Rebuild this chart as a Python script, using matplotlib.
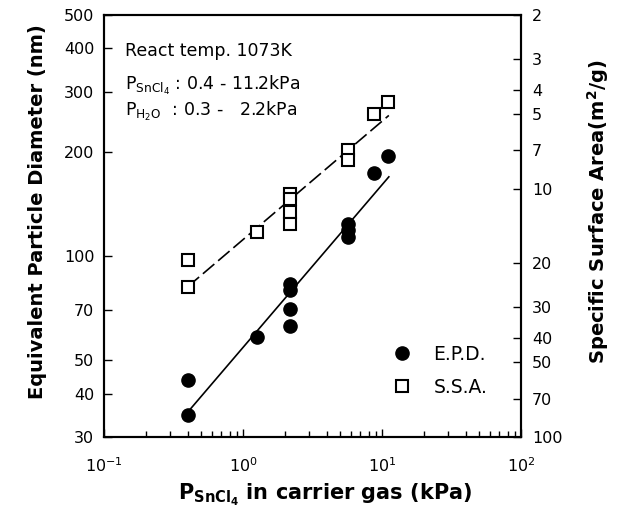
import matplotlib
matplotlib.use("Agg")
import matplotlib.pyplot as plt
from matplotlib.ticker import FixedLocator, FixedFormatter, LogLocator, NullFormatter

plt.rcParams['font.family'] = ['DejaVu Sans']
plt.rcParams['mathtext.fontset'] = 'dejavusans'
plt.rcParams['mathtext.default'] = 'regular'

# ---- data ----
epd_x = [0.4, 0.4, 1.27, 2.18, 2.18, 2.18, 2.18, 5.7, 5.7, 5.7, 8.75, 11.1]
epd_y = [43.9, 34.7, 58.5, 83.4, 80.0, 70.6, 62.9, 124, 119, 114, 174, 195]

ssa_x = [0.4, 0.4, 1.27, 2.18, 2.18, 2.18, 2.18, 5.7, 5.7, 8.75, 11.0]
ssa_y = [97.6, 81.7, 118, 151.5, 146.6, 134.2, 124.4, 203, 190, 259, 280]

fit_x = [0.4, 11.2]
epd_fit = [35.4, 170]
ssa_fit = [81.7, 256]

left_ticks = [30, 40, 50, 70, 100, 200, 300, 400, 500]
right_ticks = [2, 3, 4, 5, 7, 10, 20, 30, 40, 50, 70, 100]
x_ticks = [0.1, 1, 10, 100]
x_labels = ['$10^{-1}$', '$10^{0}$', '$10^{1}$', '$10^{2}$']

fig = plt.figure(figsize=(6.28, 5.11), dpi=100)
ax = fig.add_axes([0.1656, 0.1448, 0.664, 0.8258])

ax.plot(fit_x, epd_fit, color='black', lw=1.2)
ax.plot(fit_x, ssa_fit, color='black', lw=1.2, dashes=(9, 3))
ax.plot(epd_x, epd_y, 'o', ms=9.5, color='black', label='E.P.D.')
ax.plot(ssa_x, ssa_y, 's', ms=8, mfc='white', mec='black', mew=1.5, label='S.S.A.')

ax.set_xscale('log')
ax.set_yscale('log')
ax.set_xlim(0.1, 100)
ax.set_ylim(30, 500)

ax.xaxis.set_major_locator(FixedLocator(x_ticks))
ax.xaxis.set_major_formatter(FixedFormatter(x_labels))
ax.xaxis.set_minor_locator(LogLocator(base=10, subs=range(2, 10)))
ax.xaxis.set_minor_formatter(NullFormatter())

ax.yaxis.set_major_locator(FixedLocator(left_ticks))
ax.yaxis.set_major_formatter(FixedFormatter([str(t) for t in left_ticks]))
ax.yaxis.set_minor_locator(FixedLocator([]))

ax.tick_params(axis='both', which='major', direction='in', length=6, width=1, labelsize=11.5)
ax.tick_params(axis='x', which='minor', direction='in', length=4, width=1)
ax.tick_params(axis='x', which='both', top=False, pad=14)
ax.tick_params(axis='y', which='both', right=False, pad=7)

for s in ax.spines.values():
    s.set_linewidth(1.5)

ax.set_xlabel('P$_{\\mathbf{SnCl_4}}$ in carrier gas (kPa)', fontsize=15, fontweight='bold', labelpad=5)
ax.xaxis.label.set_x(0.53)
ax.set_ylabel('Equivalent Particle Diameter (nm)', fontsize=14, fontweight='bold', labelpad=12)
ax.yaxis.label.set_y(0.533)

ax2 = ax.twinx()
ax2.set_yscale('log')
ax2.set_ylim(100, 2)
ax2.yaxis.set_major_locator(FixedLocator(right_ticks))
ax2.yaxis.set_major_formatter(FixedFormatter([str(t) for t in right_ticks]))
ax2.yaxis.set_minor_locator(FixedLocator([]))
ax2.tick_params(axis='y', which='major', direction='in', length=6, width=1, labelsize=11.5, pad=8)
ax2.set_ylabel('Specific Surface Area(m$^{\\mathbf{2}}$/g)', fontsize=14, fontweight='bold', labelpad=16)
ax2.yaxis.label.set_y(0.533)
for s in ax2.spines.values():
    s.set_linewidth(1.5)

ax.text(0.05, 0.915, 'React temp. 1073K', transform=ax.transAxes, fontsize=12.5, va='center')
ax.text(0.05, 0.834, 'P$_{SnCl_4}$ : 0.4 - 11.2kPa', transform=ax.transAxes, fontsize=12.5, va='center')
ax.text(0.05, 0.771, 'P$_{H_2O}$  : 0.3 -   2.2kPa', transform=ax.transAxes, fontsize=12.5, va='center')

ax.legend(loc='lower right', bbox_to_anchor=(0.96, 0.055), frameon=False, fontsize=13.5,
          handletextpad=1.2, labelspacing=0.75, handlelength=1.0)

fig.savefig('out.png', dpi=100)
